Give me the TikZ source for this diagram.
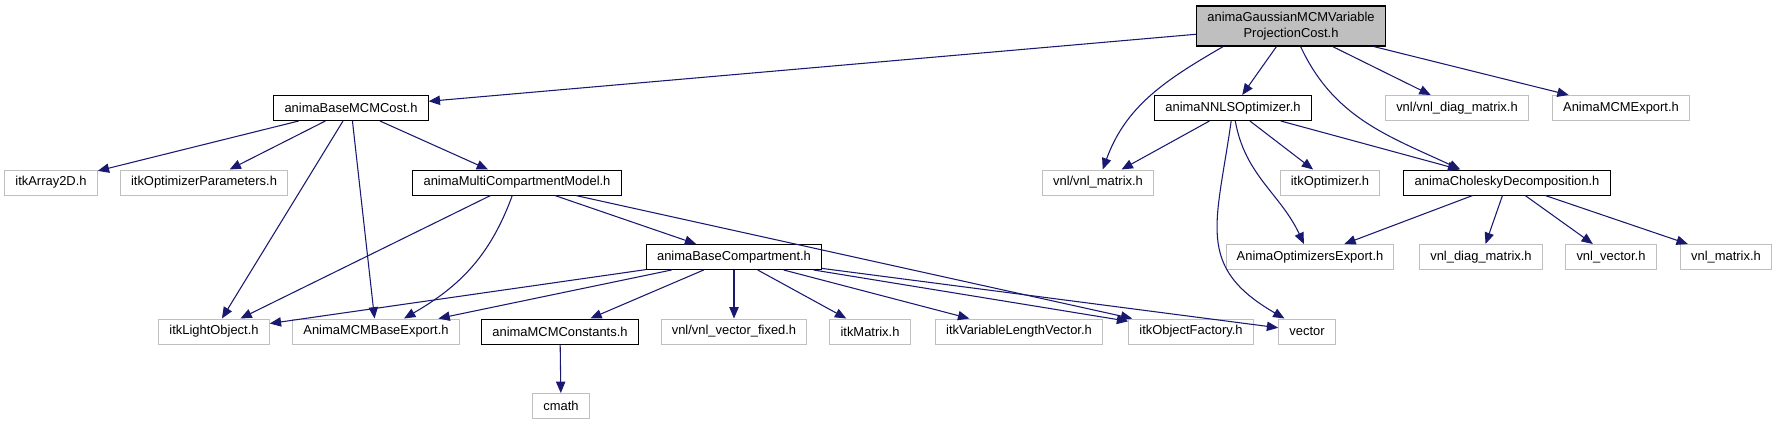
\documentclass[tikz,border=0pt]{standalone}
\usepackage{fontspec}
\setmainfont{Liberation Sans}
\usetikzlibrary{arrows.meta}
\definecolor{edgeblue}{HTML}{191970}
\definecolor{boxgray}{HTML}{BFBFBF}

\begin{document}
\begin{tikzpicture}[x=0.75pt,y=0.75pt,>={Triangle[length=8.5pt,width=7pt]},
  file/.style={draw=black,line width=0.75pt,fill=white,inner xsep=8pt,inner ysep=0pt,
    minimum height=18.75pt,font=\fontsize{9.7}{12}\selectfont},
  extfile/.style={file,draw=boxgray},
  rootfile/.style={file,fill=boxgray,line width=1pt,minimum height=30pt,align=center},
  dep/.style={->,draw=edgeblue,line width=0.8pt}]
  \useasboundingbox (0,0) rectangle (1777,-425);

  % files
  \node[rootfile] (root) at (1291,-26) {animaGaussianMCMVariable\\ProjectionCost.h};
  \node[file] (cost) at (351,-108) {animaBaseMCMCost.h};
  \node[file] (nnls) at (1233,-108) {animaNNLSOptimizer.h};
  \node[extfile] (vdiag) at (1457,-108) {vnl/vnl\_diag\_matrix.h};
  \node[extfile] (mcmexp) at (1621,-108) {AnimaMCMExport.h};
  \node[extfile] (arr) at (51,-182.5) {itkArray2D.h};
  \node[extfile] (optpar) at (204,-182.5) {itkOptimizerParameters.h};
  \node[file] (mcm) at (517,-182.5) {animaMultiCompartmentModel.h};
  \node[extfile] (vmat) at (1098,-182.5) {vnl/vnl\_matrix.h};
  \node[extfile] (itkopt) at (1330,-182.5) {itkOptimizer.h};
  \node[file] (chol) at (1507,-182.5) {animaCholeskyDecomposition.h};
  \node[file] (comp) at (734,-257) {animaBaseCompartment.h};
  \node[extfile] (optexp) at (1310,-257) {AnimaOptimizersExport.h};
  \node[extfile] (diag) at (1481,-257) {vnl\_diag\_matrix.h};
  \node[extfile] (vec) at (1611,-257) {vnl\_vector.h};
  \node[extfile] (mat) at (1726,-257) {vnl\_matrix.h};
  \node[extfile] (light) at (214,-331.5) {itkLightObject.h};
  \node[extfile] (baseexp) at (376,-331.5) {AnimaMCMBaseExport.h};
  \node[file] (consts) at (560,-331.5) {animaMCMConstants.h};
  \node[extfile] (vfixed) at (734,-331.5) {vnl/vnl\_vector\_fixed.h};
  \node[extfile] (itkmat) at (870,-331.5) {itkMatrix.h};
  \node[extfile] (varvec) at (1019,-331.5) {itkVariableLengthVector.h};
  \node[extfile] (factory) at (1191,-331.5) {itkObjectFactory.h};
  \node[extfile] (stdvec) at (1307,-331.5) {vector};
  \node[extfile] (cmath) at (561,-406) {cmath};

  % includes
  \draw[dep] (root) -- (cost);
  \draw[dep] ([xshift=-51pt]root.south) to[out=210,in=70] (vmat);
  \draw[dep] (root) -- (nnls);
  \draw[dep] (root) to[out=-65,in=155] ([xshift=-35pt]chol.north);
  \draw[dep] (root) -- (vdiag);
  \draw[dep] (root) -- (mcmexp);
  \foreach \t in {arr,optpar,light,baseexp,mcm}
    \draw[dep] (cost) -- (\t);
  \draw[dep] (mcm) -- (light);
  \draw[dep] (mcm) to[out=-110,in=30] ([xshift=21pt]baseexp.north);
  \draw[dep] (mcm) -- (comp);
  \draw[dep] (mcm) -- (factory);
  \foreach \t in {light,baseexp,consts,vfixed,itkmat,varvec,factory,stdvec}
    \draw[dep] (comp) -- (\t);
  \draw[dep] (consts) -- (cmath);
  \draw[dep] (nnls) -- (vmat);
  \draw[dep] (nnls) to[out=-98,in=150,looseness=1.3] (stdvec);
  \draw[dep] (nnls) to[out=-80,in=115] (optexp);
  \draw[dep] (nnls) -- (itkopt);
  \draw[dep] (nnls) -- (chol);
  \foreach \t in {optexp,diag,vec,mat}
    \draw[dep] (chol) -- (\t);
\end{tikzpicture}
\end{document}
